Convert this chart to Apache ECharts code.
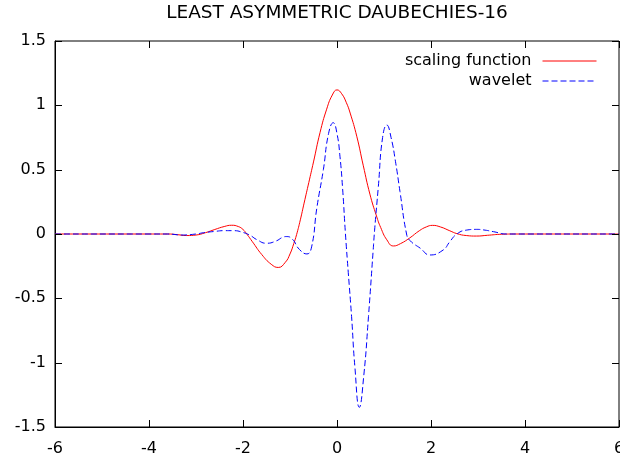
<!DOCTYPE html>
<html>
<head>
<meta charset="utf-8">
<script src="https://cdn.jsdelivr.net/npm/echarts@6/dist/echarts.min.js"></script>
<style>
html,body{margin:0;padding:0;background:#fff;}
#c{width:620px;height:457px;}
</style>
</head>
<body>
<div id="c"></div>
<script>
const titleText = 'LEAST ASYMMETRIC DAUBECHIES-16';
const seriesNames = ['scaling function', 'wavelet'];
const xTicks = [-6, -4, -2, 0, 2, 4, 6];
const yTicks = [-1.5, -1, -0.5, 0, 0.5, 1, 1.5];

const phiX = [-6, -4, -3.6, -3.4, -3.2, -3.0, -2.8, -2.6, -2.4, -2.24, -2.1, -2.0, -1.92, -1.8, -1.6, -1.4, -1.25, -1.1, -1.0, -0.92, -0.86, -0.78, -0.7, -0.6, -0.5, -0.36, -0.22, -0.1, 0, 0.1, 0.2, 0.28, 0.42, 0.56, 0.7, 0.84, 0.93, 1.06, 1.2, 1.35, 1.55, 1.75, 1.9, 2.03, 2.2, 2.4, 2.55, 2.75, 2.97, 3.2, 3.5, 3.8, 6];
const phiY = [0, 0, 0, -0.005, -0.012, -0.008, 0.01, 0.035, 0.058, 0.068, 0.058, 0.035, 0.0, -0.06, -0.16, -0.235, -0.26, -0.22, -0.155, -0.075, -0.005, 0.11, 0.24, 0.40, 0.56, 0.79, 0.97, 1.08, 1.12, 1.09, 1.02, 0.94, 0.76, 0.53, 0.31, 0.14, 0.05, -0.045, -0.093, -0.075, -0.03, 0.025, 0.055, 0.067, 0.055, 0.025, 0.003, -0.012, -0.016, -0.01, -0.002, 0, 0];

const psiX = [-6, -4, -3.6, -3.3, -3.0, -2.84, -2.6, -2.4, -2.2, -2.0, -1.85, -1.7, -1.5, -1.3, -1.15, -1.07, -0.95, -0.8, -0.64, -0.54, -0.43, -0.29, -0.18, -0.08, 0.0, 0.064, 0.12, 0.18, 0.24, 0.31, 0.38, 0.475, 0.57, 0.67, 0.77, 0.8, 0.88, 0.97, 1.06, 1.15, 1.25, 1.34, 1.48, 1.55, 1.77, 1.98, 2.26, 2.4, 2.55, 2.75, 2.97, 3.15, 3.33, 3.61, 6];
const psiY = [0, 0, 0, -0.008, 0.0, 0.01, 0.02, 0.026, 0.026, 0.012, -0.01, -0.045, -0.072, -0.055, -0.025, -0.02, -0.04, -0.12, -0.155, -0.1, 0.2, 0.5, 0.78, 0.865, 0.78, 0.6, 0.35, 0.0, -0.3, -0.64, -1.03, -1.347, -1.1, -0.64, -0.124, 0.03, 0.37, 0.75, 0.847, 0.75, 0.55, 0.33, 0.0, -0.05, -0.11, -0.163, -0.124, -0.06, 0.0, 0.03, 0.036, 0.03, 0.018, 0, 0];

const phiData = phiX.map((x, i) => [x, phiY[i]]);
const psiData = psiX.map((x, i) => [x, psiY[i]]);

const xMin = xTicks[0], xMax = xTicks[xTicks.length - 1];
const yMin = yTicks[0], yMax = yTicks[yTicks.length - 1];

const font = '"DejaVu Sans", "Liberation Sans", sans-serif';
function aline() { return { show: true, onZero: false, lineStyle: { color: '#000', width: 1 } }; }

const chart = echarts.init(document.getElementById('c'), null, { renderer: 'canvas' });
chart.setOption({
  animation: false,
  backgroundColor: '#fff',
  title: {
    text: titleText,
    left: 337, top: 4, textAlign: 'center', padding: 0,
    textStyle: { fontFamily: font, fontSize: 18.5, fontWeight: 'normal', color: '#000' }
  },
  legend: {
    orient: 'vertical',
    right: 23, top: 53, padding: 0,
    align: 'right',
    itemWidth: 54, itemHeight: 10, itemGap: 4,
    itemStyle: { opacity: 0 },
    lineStyle: { width: 1 },
    textStyle: { fontFamily: font, fontSize: 16, color: '#000', padding: [0, 6, 0, 0] },
    data: seriesNames
  },
  grid: { show: true, borderColor: '#000', borderWidth: 1, backgroundColor: 'transparent',
          left: 55, right: 1, top: 41, bottom: 30, outerBoundsMode: 'none' },
  xAxis: {
    type: 'value', position: 'bottom', min: xMin, max: xMax, interval: 2,
    axisLine: aline(), axisTick: { show: false }, splitLine: { show: false },
    axisLabel: { fontFamily: font, fontSize: 16, color: '#000', margin: 14 }
  },
  yAxis: {
    type: 'value', position: 'left', min: yMin, max: yMax, interval: 0.5,
    axisLine: aline(), axisTick: { show: false }, splitLine: { show: false },
    axisLabel: { fontFamily: font, fontSize: 16, color: '#000', margin: 9 }
  },
  series: [{
    name: seriesNames[0], type: 'line', data: phiData,
    showSymbol: false, symbol: 'none', smooth: 0.5,
    lineStyle: { color: '#ff0000', width: 1 }, itemStyle: { color: '#ff0000' }
  }, {
    name: seriesNames[1], type: 'line', data: psiData,
    showSymbol: false, symbol: 'none', smooth: 0.5,
    lineStyle: { color: '#0000ff', width: 1, type: [6, 3] }, itemStyle: { color: '#0000ff' }
  }]
});

// Inward tick marks on all four sides (gnuplot style), placed through the axes' own scales.
const TICK = 7;
const pxX = v => chart.convertToPixel({ xAxisIndex: 0 }, v);
const pxY = v => chart.convertToPixel({ yAxisIndex: 0 }, v);
const gLeft = pxX(xMin), gRight = pxX(xMax), gTop = pxY(yMax), gBottom = pxY(yMin);
const tickEls = [];
const st = { stroke: '#000', lineWidth: 1 };
xTicks.forEach(v => {
  const x = Math.round(pxX(v)) + 0.5;
  tickEls.push({ type: 'line', silent: true, z: 10, shape: { x1: x, y1: gBottom, x2: x, y2: gBottom - TICK }, style: st });
  tickEls.push({ type: 'line', silent: true, z: 10, shape: { x1: x, y1: gTop, x2: x, y2: gTop + TICK }, style: st });
});
yTicks.forEach(v => {
  const y = Math.round(pxY(v)) + 0.5;
  tickEls.push({ type: 'line', silent: true, z: 10, shape: { x1: gLeft, y1: y, x2: gLeft + TICK, y2: y }, style: st });
  tickEls.push({ type: 'line', silent: true, z: 10, shape: { x1: gRight, y1: y, x2: gRight - TICK, y2: y }, style: st });
});
chart.setOption({ graphic: tickEls });
</script>
</body>
</html>
